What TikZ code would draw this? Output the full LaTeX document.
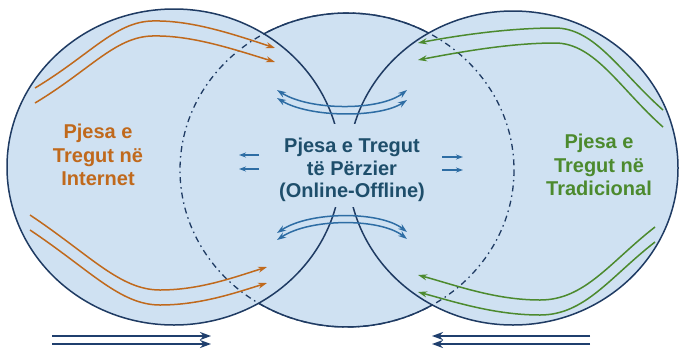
\documentclass[tikz,border=0pt]{standalone}
\usepackage{fontspec}
\setmainfont{Liberation Sans}
\usetikzlibrary{arrows.meta,calc}
\definecolor{fillblue}{HTML}{CFE1F2}
\definecolor{outline}{HTML}{1F3B63}
\definecolor{orangec}{HTML}{C0691C}
\definecolor{greenc}{HTML}{4C8A2E}
\definecolor{midtext}{HTML}{1E4E6B}
\definecolor{arrblue}{HTML}{2E6DA4}
\definecolor{navy}{HTML}{1F3F6E}
\tikzset{
  shapefill/.style={fill=fillblue},
  rim/.style={draw=outline, line width=1.5pt},
  dashrim/.style={draw=outline, line width=1.3pt, dash pattern=on 6pt off 4pt on 1.5pt off 4pt},
  orarrow/.style={draw=orangec, line width=1.5pt, -{Stealth[length=9pt,width=6pt]}},
  grarrow/.style={draw=greenc, line width=1.5pt, -{Stealth[length=9pt,width=6pt]}},
  blarrow/.style={draw=arrblue, line width=1.5pt, {Stealth[length=9pt,width=6pt]}-{Stealth[length=9pt,width=6pt]}},
  smarrow/.style={draw=arrblue, line width=1.3pt, -{Stealth[length=7pt,width=5pt]}},
  bigarrow/.style={draw=navy, line width=2pt, -{Stealth[length=11pt,width=8pt]}},
  lbl/.style={font=\bfseries\fontsize{20}{23.5}\selectfont, align=center, inner sep=0pt}
}
\begin{document}
\begin{tikzpicture}[x=1pt,y=-1pt]
\useasboundingbox[fill=white] (0,0) rectangle (679,354);
% fills
\coordinate (Lc) at (174,167);
\coordinate (Mc) at (347,170);
\coordinate (Rc) at (513,168);
\fill[shapefill] (Lc) ellipse [x radius=167, y radius=158];
\fill[shapefill] (Rc) ellipse [x radius=165, y radius=157];
\fill[shapefill] (Mc) ellipse [x radius=167, y radius=157];
% outlines
\draw[rim] (Lc) ellipse [x radius=167, y radius=158];
\draw[rim] (Rc) ellipse [x radius=165, y radius=157];
\draw[dashrim] (Mc) ellipse [x radius=167, y radius=157];
\draw[rim] ($(Mc)+(-120:167 and 157)$) arc [start angle=-120, end angle=-60.7, x radius=167, y radius=157];
\draw[rim] ($(Mc)+(59.3:167 and 157)$) arc [start angle=59.3, end angle=121.9, x radius=167, y radius=157];
% mask behind middle text
\node[fill=fillblue, inner sep=0pt, minimum width=44, minimum height=83] (mask) at (347,165.5) {};
% labels
\node[lbl, text=orangec] (left) at (98,155) {Pjesa e\\Tregut në\\Internet};
\node[lbl, text=greenc] (right) at (599,165) {Pjesa e\\Tregut në\\Tradicional};
\node[lbl, text=midtext, font=\bfseries\fontsize{20}{22.5}\selectfont] (mid) at (352,170) {Pjesa e Tregut\\të Përzier\\(Online-Offline)};
% orange arrows
\coordinate (o1a) at (35,88); \coordinate (o1b) at (275,48);
\coordinate (o2a) at (35,103); \coordinate (o2b) at (275,62);
\draw[orarrow] (o1a) .. controls (90,55) and (115,22) .. (152,21) .. controls (190,20) and (230,33) .. (o1b);
\draw[orarrow] (o2a) .. controls (90,70) and (115,37) .. (152,36) .. controls (190,35) and (230,48) .. (o2b);
\coordinate (o3a) at (30,215); \coordinate (o3b) at (267,267);
\coordinate (o4a) at (30,230); \coordinate (o4b) at (267,283);
\draw[orarrow] (o3a) .. controls (90,255) and (120,290) .. (160,290) .. controls (200,290) and (235,277) .. (o3b);
\draw[orarrow] (o4a) .. controls (90,270) and (120,305) .. (160,305) .. controls (200,305) and (235,293) .. (o4b);
% green arrows
\coordinate (g1a) at (663,110); \coordinate (g1b) at (418,43);
\coordinate (g2a) at (663,127); \coordinate (g2b) at (418,60);
\draw[grarrow] (g1a) .. controls (620,72) and (595,28) .. (555,28) .. controls (510,28) and (460,35) .. (g1b);
\draw[grarrow] (g2a) .. controls (620,89) and (595,43) .. (555,43) .. controls (510,43) and (460,52) .. (g2b);
\coordinate (g3a) at (655,227); \coordinate (g3b) at (418,275);
\coordinate (g4a) at (655,242); \coordinate (g4b) at (418,292);
\draw[grarrow] (g3a) .. controls (610,262) and (585,300) .. (540,300) .. controls (495,300) and (455,285) .. (g3b);
\draw[grarrow] (g4a) .. controls (610,277) and (585,315) .. (540,315) .. controls (495,315) and (455,302) .. (g4b);
% blue double arrows
\coordinate (b1a) at (277,90); \coordinate (b1b) at (407,90);
\coordinate (b2a) at (277,98); \coordinate (b2b) at (407,100);
\draw[blarrow] (b1a) .. controls (310,111) and (380,111) .. (b1b);
\draw[blarrow] (b2a) .. controls (310,118) and (380,118) .. (b2b);
\coordinate (b3a) at (277,233); \coordinate (b3b) at (407,232);
\coordinate (b4a) at (277,240); \coordinate (b4b) at (407,239);
\draw[blarrow] (b3a) .. controls (310,211) and (380,211) .. (b3b);
\draw[blarrow] (b4a) .. controls (310,218) and (380,218) .. (b4b);
% small arrows
\coordinate (s1a) at (259,155); \coordinate (s1b) at (239,155);
\coordinate (s2a) at (259,169); \coordinate (s2b) at (239,169);
\coordinate (s3a) at (442,157); \coordinate (s3b) at (463,157);
\coordinate (s4a) at (442,170); \coordinate (s4b) at (463,170);
\draw[smarrow] (s1a) -- (s1b);
\draw[smarrow] (s2a) -- (s2b);
\draw[smarrow] (s3a) -- (s3b);
\draw[smarrow] (s4a) -- (s4b);
% bottom arrows
\coordinate (f1a) at (52,336); \coordinate (f1b) at (211,336);
\coordinate (f2a) at (52,344); \coordinate (f2b) at (211,344);
\coordinate (f3a) at (590,336); \coordinate (f3b) at (432,336);
\coordinate (f4a) at (590,344); \coordinate (f4b) at (432,344);
\draw[bigarrow] (f1a) -- (f1b);
\draw[bigarrow] (f2a) -- (f2b);
\draw[bigarrow] (f3a) -- (f3b);
\draw[bigarrow] (f4a) -- (f4b);
\end{tikzpicture}
\end{document}
